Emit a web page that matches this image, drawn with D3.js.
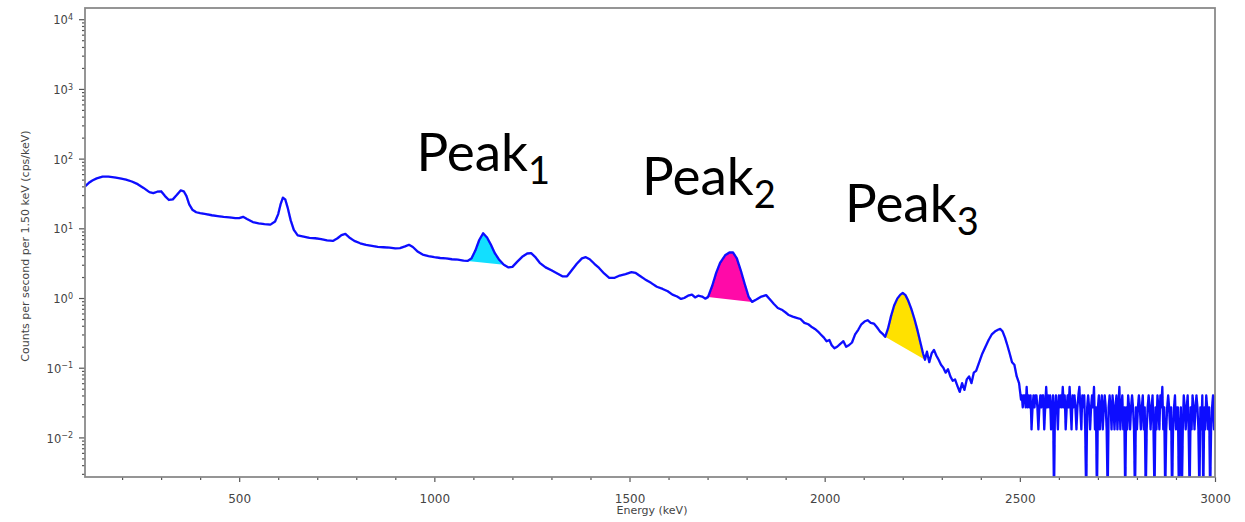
<!DOCTYPE html>
<html lang="en">
<head>
  <meta charset="UTF-8">
  <title>Spectrum</title>
  <script src="https://d3js.org/d3.v7.min.js"></script>
  <style>
    body { margin: 0; background: #fff; }
    .tick text { font-family: "DejaVu Sans", sans-serif; fill: #444; }
  </style>
</head>
<body>
  <div id="chart"></div>
  <script>
    // spectrum (keV, cps/keV)
    const energy = [105, 115, 125, 135, 150, 165, 180, 195, 210, 225, 240, 255, 270, 280, 290, 300, 310, 320, 330, 340,
      350, 358, 365, 372, 380, 390, 400, 415, 430, 445, 460, 475, 490, 500, 510, 520, 535, 550, 565, 580,
      592, 600, 606, 612, 618, 624, 632, 640, 650, 665, 680, 695, 710, 725, 740, 752, 762, 772, 782, 795,
      810, 825, 840, 855, 870, 885, 900, 912, 925, 935, 945, 958, 970, 985, 1000, 1015, 1030, 1045, 1060, 1075,
      1085, 1095, 1105, 1115, 1125, 1135, 1145, 1155, 1165, 1178, 1190, 1200, 1212, 1225, 1238, 1248, 1258, 1270, 1285, 1300,
      1315, 1328, 1340, 1352, 1365, 1378, 1388, 1398, 1410, 1422, 1435, 1448, 1462, 1475, 1490, 1505, 1515, 1528, 1540, 1555,
      1570, 1585, 1598, 1610, 1622, 1632, 1640, 1650, 1660, 1668, 1676, 1686, 1694, 1701, 1712, 1722, 1732, 1745, 1756, 1765,
      1775, 1785, 1795, 1805, 1814, 1825, 1838, 1850, 1860, 1870, 1880, 1890, 1900, 1908, 1918, 1928, 1938, 1948, 1958, 1968,
      1975, 1983, 1990, 1998, 2005, 2012, 2018, 2025, 2032, 2040, 2048, 2055, 2062, 2070, 2078, 2086, 2094, 2102, 2110, 2118,
      2126, 2134, 2142, 2150, 2155, 2162, 2170, 2178, 2186, 2194, 2200, 2207, 2214, 2222, 2230, 2238, 2246, 2252, 2257, 2262,
      2268, 2274, 2280, 2286, 2292, 2298, 2304, 2310, 2316, 2322, 2328, 2334, 2340, 2346, 2352, 2358, 2364, 2370, 2376, 2382,
      2388, 2396, 2404, 2412, 2420, 2428, 2436, 2444, 2450, 2456, 2462, 2468, 2474, 2480, 2486, 2492, 2498, 2503]
    const rate = [40, 45, 49, 52, 55, 55, 54, 52, 50, 47, 43, 38, 33, 32, 33.5, 34, 29, 25.5, 26, 30,
      35, 34, 29, 22, 18.5, 17, 16.5, 16, 15.4, 15, 14.6, 14.4, 14, 14, 14.6, 13.6, 12.3, 11.8, 11.5, 11.3,
      12.5, 16, 22, 27.5, 26, 20, 13, 9.5, 7.9, 7.6, 7.3, 7.2, 7.0, 6.7, 6.6, 7.2, 8.0, 8.3, 7.4, 6.6,
      6.1, 5.8, 5.6, 5.4, 5.35, 5.3, 5.15, 5.2, 5.5, 5.8, 5.4, 4.6, 4.2, 4.0, 3.85, 3.75, 3.7, 3.6, 3.55, 3.45,
      3.4, 3.7, 4.8, 6.8, 8.5, 7.4, 5.8, 4.4, 3.6, 3.0, 2.75, 2.8, 3.3, 3.9, 4.35, 4.4, 3.9, 3.2, 2.75, 2.5,
      2.25, 2.05, 2.05, 2.5, 3.1, 3.7, 3.85, 3.6, 3.1, 2.7, 2.25, 1.95, 1.95, 2.1, 2.2, 2.35, 2.3, 2.05, 1.85, 1.65,
      1.45, 1.35, 1.25, 1.12, 1.05, 0.97, 1.0, 1.08, 1.12, 1.02, 1.08, 1.05, 0.98, 1.03, 1.5, 2.3, 3.2, 4.1, 4.5, 4.5,
      3.7, 2.5, 1.6, 1.05, 0.88, 0.95, 1.05, 1.1, 0.95, 0.82, 0.72, 0.68, 0.62, 0.57, 0.54, 0.52, 0.5, 0.44, 0.42, 0.38,
      0.36, 0.33, 0.3, 0.27, 0.24, 0.25, 0.21, 0.19, 0.2, 0.22, 0.24, 0.2, 0.21, 0.23, 0.3, 0.35, 0.42, 0.46, 0.48, 0.44,
      0.43, 0.38, 0.33, 0.3, 0.277, 0.36, 0.55, 0.78, 0.98, 1.12, 1.18, 1.1, 0.92, 0.7, 0.5, 0.34, 0.22, 0.16, 0.13, 0.17,
      0.12, 0.16, 0.18, 0.15, 0.13, 0.11, 0.1, 0.085, 0.095, 0.075, 0.065, 0.068, 0.055, 0.045, 0.06, 0.048, 0.068, 0.075, 0.06, 0.085,
      0.09, 0.12, 0.16, 0.2, 0.25, 0.3, 0.33, 0.35, 0.36, 0.33, 0.27, 0.21, 0.16, 0.12, 0.11, 0.075, 0.06, 0.035]

    // noisy high-energy tail, 2.5 keV bins, 0 = empty bin
    const tailEnergy = [2505, 2507.5, 2510, 2512.5, 2515, 2517.5, 2520, 2522.5, 2525, 2527.5, 2530, 2532.5, 2535, 2537.5, 2540, 2542.5, 2545, 2547.5, 2550, 2552.5,
      2555, 2557.5, 2560, 2562.5, 2565, 2567.5, 2570, 2572.5, 2575, 2577.5, 2580, 2582.5, 2585, 2587.5, 2590, 2592.5, 2595, 2597.5, 2600, 2602.5,
      2605, 2607.5, 2610, 2612.5, 2615, 2617.5, 2620, 2622.5, 2625, 2627.5, 2630, 2632.5, 2635, 2637.5, 2640, 2642.5, 2645, 2647.5, 2650, 2652.5,
      2655, 2657.5, 2660, 2662.5, 2665, 2667.5, 2670, 2672.5, 2675, 2677.5, 2680, 2682.5, 2685, 2687.5, 2690, 2692.5, 2695, 2697.5, 2700, 2702.5,
      2705, 2707.5, 2710, 2712.5, 2715, 2717.5, 2720, 2722.5, 2725, 2727.5, 2730, 2732.5, 2735, 2737.5, 2740, 2742.5, 2745, 2747.5, 2750, 2752.5,
      2755, 2757.5, 2760, 2762.5, 2765, 2767.5, 2770, 2772.5, 2775, 2777.5, 2780, 2782.5, 2785, 2787.5, 2790, 2792.5, 2795, 2797.5, 2800, 2802.5,
      2805, 2807.5, 2810, 2812.5, 2815, 2817.5, 2820, 2822.5, 2825, 2827.5, 2830, 2832.5, 2835, 2837.5, 2840, 2842.5, 2845, 2847.5, 2850, 2852.5,
      2855, 2857.5, 2860, 2862.5, 2865, 2867.5, 2870, 2872.5, 2875, 2877.5, 2880, 2882.5, 2885, 2887.5, 2890, 2892.5, 2895, 2897.5, 2900, 2902.5,
      2905, 2907.5, 2910, 2912.5, 2915, 2917.5, 2920, 2922.5, 2925, 2927.5, 2930, 2932.5, 2935, 2937.5, 2940, 2942.5, 2945, 2947.5, 2950, 2952.5,
      2955, 2957.5, 2960, 2962.5, 2965, 2967.5, 2970, 2972.5, 2975, 2977.5, 2980, 2982.5, 2985, 2987.5, 2990, 2992.5, 2995, 2997.5, 3000]
    const tailRate = [0.04, 0.027, 0.04, 0.04, 0.027, 0.053, 0.027, 0.04, 0.027, 0.04, 0.013, 0.027, 0.04, 0.027, 0.04, 0.04, 0.027, 0.013, 0.027, 0.04,
      0.027, 0.04, 0.04, 0.013, 0.027, 0.053, 0.027, 0.04, 0.027, 0.04, 0.013, 0.027, 0.04, 0, 0.027, 0.04, 0.027, 0.013, 0.04, 0.027,
      0.04, 0.027, 0.053, 0.027, 0.04, 0.013, 0.027, 0.04, 0.027, 0.053, 0.027, 0.013, 0.04, 0.027, 0.04, 0.027, 0.013, 0.027, 0.04, 0.053,
      0.027, 0.013, 0.04, 0.027, 0.04, 0.013, 0, 0.027, 0.04, 0.027, 0.013, 0.027, 0.04, 0.027, 0.053, 0.013, 0.027, 0, 0.027, 0.04,
      0.013, 0.027, 0.04, 0.013, 0.027, 0.04, 0.027, 0.013, 0, 0.027, 0.04, 0.027, 0.013, 0.04, 0.027, 0.013, 0.027, 0.04, 0.013, 0.027,
      0.053, 0.013, 0.027, 0.04, 0.013, 0.027, 0, 0.027, 0.013, 0.04, 0.027, 0.013, 0.027, 0.04, 0.027, 0.013, 0, 0.027, 0.013, 0.027,
      0.04, 0.027, 0.013, 0.027, 0.04, 0.013, 0.027, 0, 0.013, 0.027, 0.04, 0.027, 0.013, 0.027, 0.04, 0.013, 0, 0.027, 0.013, 0.04,
      0.027, 0.013, 0.04, 0.027, 0.053, 0.013, 0.027, 0, 0.013, 0.027, 0.04, 0.027, 0.013, 0.027, 0, 0.013, 0.027, 0.04, 0.013, 0.027,
      0.027, 0, 0.013, 0.027, 0, 0.013, 0.04, 0.027, 0.013, 0.027, 0.04, 0.013, 0, 0.027, 0.013, 0.04, 0.027, 0.013, 0.027, 0.04,
      0.027, 0.013, 0, 0.027, 0.013, 0.04, 0, 0.027, 0.013, 0.04, 0.027, 0.013, 0.027, 0, 0.013, 0.027, 0.04, 0.013, 0.04]

    const peakSubs = ['1', '2', '3']
    const peakLo = [1085, 1701, 2155]
    const peakHi = [1178, 1814, 2257]
    const peakColors = ['#12dfff', '#ff0aa8', '#ffe100']
    const peakLabelE = [954, 1532, 2052]
    const peakLabelV = [67, 29.6, 12.2]

    const xTicks = [500, 1000, 1500, 2000, 2500, 3000]
    const yTicks = [-2, -1, 0, 1, 2, 3, 4]

    const W = 1245, H = 522
    const margin = { top: 8, right: 30, bottom: 45, left: 85 }
    const width = W - margin.left - margin.right
    const height = H - margin.top - margin.bottom

    const svg = d3.select('#chart').append('svg')
      .attr('width', W)
      .attr('height', H)

    const defs = svg.append('defs')
    defs.append('clipPath').attr('id', 'plot')
      .append('rect').attr('width', width).attr('height', height)
    defs.append('filter').attr('id', 'soft')
      .append('feGaussianBlur').attr('stdDeviation', 0.45)

    const g = svg.append('g')
      .attr('transform', 'translate(' + margin.left + ',' + margin.top + ')')

    const x = d3.scaleLinear().domain([105, 3000]).range([0, width])
    const y = d3.scaleLog().domain([Math.pow(10, -2.568), Math.pow(10, 4.161)]).range([height, 0])

    const pts = energy.map((e, i) => [e, rate[i]])
      .concat(tailEnergy.map((e, i) => [e, tailRate[i]]))

    const yPix = v => v > 0 ? y(v) : height + 20

    const line = d3.line()
      .x(d => x(d[0]))
      .y(d => yPix(d[1]))

    const plot = g.append('g').attr('clip-path', 'url(#plot)')

    // shaded peaks, closed by a straight baseline
    peakLo.forEach((lo, i) => {
      const seg = pts.filter(d => d[0] >= lo && d[0] <= peakHi[i])
      plot.append('path')
        .attr('d', line(seg) + 'Z')
        .attr('fill', peakColors[i])
    })

    plot.append('path')
      .datum(pts)
      .attr('d', line)
      .attr('fill', 'none')
      .attr('stroke', '#0a0aff')
      .attr('stroke-width', 2.3)
      .attr('stroke-linejoin', 'round')
      .attr('filter', 'url(#soft)')

    // axes
    const xAxis = g.append('g')
      .attr('transform', 'translate(0,' + height + ')')
      .call(d3.axisBottom(x).tickValues(d3.range(200, 3001, 100)).tickSize(3).tickFormat(''))
    xAxis.selectAll('.tick').filter(d => xTicks.includes(d)).select('line').attr('y2', 5)
    xAxis.selectAll('.tick').filter(d => xTicks.includes(d)).append('text')
      .attr('y', 17)
      .attr('dy', '0.71em')
      .attr('text-anchor', 'middle')
      .style('font-size', '12px')
      .text(d => d)

    const minors = []
    for (let p = -3; p <= 4; p++) {
      for (let k = 2; k <= 9; k++) {
        const v = k * Math.pow(10, p)
        if (v >= y.domain()[0] && v <= y.domain()[1]) minors.push(v)
      }
    }
    g.append('g')
      .call(d3.axisLeft(y).tickValues(minors).tickSize(3).tickFormat(''))
    const yMajor = g.append('g')
      .call(d3.axisLeft(y).tickValues(yTicks.map(p => Math.pow(10, p))).tickSize(6).tickFormat(''))
    yMajor.selectAll('.tick').append('text')
      .attr('x', -12)
      .attr('dy', '0.4em')
      .attr('text-anchor', 'end')
      .style('font-size', '11.5px')
      .each(function (d, i) {
        const t = d3.select(this)
        t.append('tspan').text('10')
        t.append('tspan').attr('dy', '-0.55em').style('font-size', '8px').text(yTicks[i] < 0 ? '\u2212' + (-yTicks[i]) : yTicks[i])
      })

    g.selectAll('.domain').remove()
    g.selectAll('.tick line').attr('stroke', '#555').attr('stroke-width', 1.2)

    g.append('rect')
      .attr('width', width)
      .attr('height', height)
      .attr('fill', 'none')
      .attr('stroke', '#8a8a8a')
      .attr('stroke-width', 1.8)

    svg.append('text')
      .attr('transform', 'translate(29,' + (margin.top + 238) + ') rotate(-90)')
      .attr('text-anchor', 'middle')
      .style('font-family', '"DejaVu Sans", sans-serif')
      .style('font-size', '11px')
      .attr('fill', '#444')
      .text('Counts per second per 1.50 keV (cps/keV)')

    svg.append('text')
      .attr('x', margin.left + width / 2 + 2)
      .attr('y', 514)
      .attr('text-anchor', 'middle')
      .style('font-family', '"DejaVu Sans", sans-serif')
      .style('font-size', '11px')
      .attr('fill', '#444')
      .text('Energy (keV)')

    // peak labels
    peakSubs.forEach((s, i) => {
      const t = g.append('text')
        .attr('x', x(peakLabelE[i]))
        .attr('y', y(peakLabelV[i]))
        .style('font-family', 'Lato, "Open Sans", sans-serif')
        .style('font-size', '53px')
        .attr('fill', '#000')
      t.append('tspan').text('Peak')
      t.append('tspan').attr('dy', 13).style('font-size', '38px').text(s)
    })
  </script>
</body>
</html>
